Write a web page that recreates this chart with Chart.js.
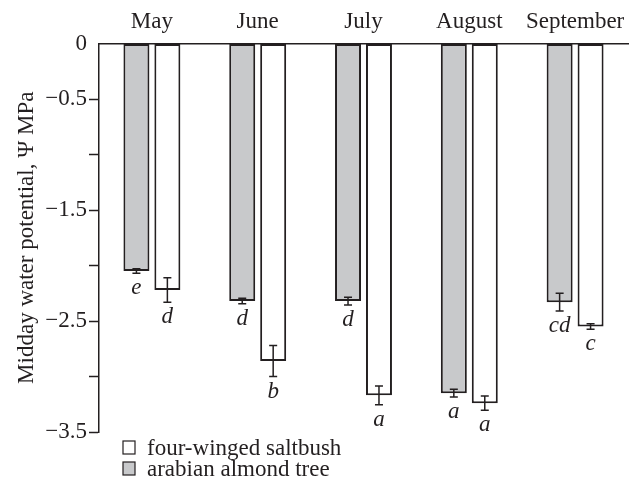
<!DOCTYPE html>
<html>
<head>
<meta charset="utf-8">
<script src="https://cdn.jsdelivr.net/npm/chart.js@4.4.1/dist/chart.umd.min.js"></script>
<style>
  html, body { margin: 0; padding: 0; background: #fff; }
  #wrap { position: relative; width: 641px; height: 486px; }
</style>
</head>
<body>
<div id="wrap"><canvas id="myChart"></canvas></div>
<script>
"use strict";

// data
const months = ['May', 'June', 'July', 'August', 'September'];
const almond = [-2.05, -2.32, -2.32, -3.15, -2.33];
const almondErr = [0.02, 0.025, 0.035, 0.035, 0.08];
const almondLetters = ['e', 'd', 'd', 'a', 'cd'];
const saltbush = [-2.22, -2.86, -3.17, -3.24, -2.55];
const saltbushErr = [0.11, 0.14, 0.085, 0.065, 0.025];
const saltbushLetters = ['d', 'b', 'a', 'a', 'c'];
const labelledTicks = [0, -0.5, -1.5, -2.5, -3.5];

const ink = '#231f20';
const grey = '#c8c9cb';
const serif = 'Liberation Serif';

// error bars, significance letters and the stacked legend
const extras = {
    id: 'extras',
    afterDatasetsDraw(chart) {
        const ctx = chart.ctx;
        const y = chart.scales.y;
        ctx.save();
        chart.data.datasets.forEach((ds, i) => {
            const meta = chart.getDatasetMeta(i);
            meta.data.forEach((bar, j) => {
                const v = ds.data[j], e = ds.errors[j];
                const top = y.getPixelForValue(v + e);
                const bot = y.getPixelForValue(v - e);
                ctx.strokeStyle = ink;
                ctx.lineWidth = 1.5;
                ctx.beginPath();
                ctx.moveTo(bar.x, top); ctx.lineTo(bar.x, bot);
                ctx.moveTo(bar.x - 4, top); ctx.lineTo(bar.x + 4, top);
                ctx.moveTo(bar.x - 4, bot); ctx.lineTo(bar.x + 4, bot);
                ctx.stroke();

                ctx.fillStyle = ink;
                ctx.font = 'italic 23px "' + serif + '"';
                ctx.textAlign = 'center';
                ctx.textBaseline = 'alphabetic';
                ctx.fillText(ds.letters[j], bar.x, bot + 21);
            });
        });

        // legend, saltbush first
        const items = chart.data.datasets.slice().reverse();
        ctx.font = '23px "' + serif + '"';
        ctx.textAlign = 'left';
        ctx.textBaseline = 'alphabetic';
        items.forEach((ds, k) => {
            const by = 441 + k * 21;
            ctx.fillStyle = ds.backgroundColor;
            ctx.fillRect(123, by, 12, 13);
            ctx.strokeStyle = ink;
            ctx.lineWidth = 1.2;
            ctx.strokeRect(123, by, 12, 13);
            ctx.fillStyle = ink;
            ctx.fillText(ds.label, 147, by + 14);
        });
        ctx.restore();
    }
};

const ctx = document.getElementById('myChart').getContext('2d');
const chart = new Chart(ctx, {
    type: 'bar',
    data: {
        labels: months,
        datasets: [
            {
                label: 'arabian almond tree',
                data: almond,
                errors: almondErr,
                letters: almondLetters,
                backgroundColor: grey,
                borderColor: ink,
                borderWidth: 2,
                borderSkipped: false
            },
            {
                label: 'four-winged saltbush',
                data: saltbush,
                errors: saltbushErr,
                letters: saltbushLetters,
                backgroundColor: '#ffffff',
                borderColor: ink,
                borderWidth: 2,
                borderSkipped: false
            }
        ]
    },
    options: {
        responsive: true,
        maintainAspectRatio: false,
        animation: false,
        categoryPercentage: 0.585,
        barPercentage: 0.84,
        layout: { padding: { left: 0, top: 0, right: 13, bottom: 54 } },
        plugins: {
            legend: { display: false },
            tooltip: { enabled: false }
        },
        scales: {
            x: {
                position: 'top',
                afterFit(scale) { scale.height = 43.5; },
                grid: { display: true, drawOnChartArea: false, drawTicks: false },
                border: { color: ink, width: 1.5 },
                ticks: { color: ink, padding: 8, font: { family: serif, size: 23 } }
            },
            y: {
                min: -3.5,
                max: 0,
                afterFit(scale) { scale.width = 99; },
                grid: {
                    drawOnChartArea: false,
                    tickLength: 10,
                    tickWidth: 1.5,
                    tickColor: (c) => c.tick && c.tick.value === 0 ? 'rgba(0,0,0,0)' : ink
                },
                border: { color: ink, width: 1.5 },
                ticks: {
                    stepSize: 0.5,
                    padding: 2,
                    color: ink,
                    font: { family: serif, size: 23 },
                    callback: (v) => labelledTicks.includes(v)
                        ? (v === 0 ? '0' : '\u2212' + Math.abs(v))
                        : ''
                },
                title: {
                    display: true,
                    text: 'Midday water potential, \u03A8 MPa',
                    color: ink,
                    font: { family: serif, size: 23 },
                    padding: { top: 13, bottom: 0 }
                }
            }
        }
    },
    plugins: [extras]
});
</script>
</body>
</html>
